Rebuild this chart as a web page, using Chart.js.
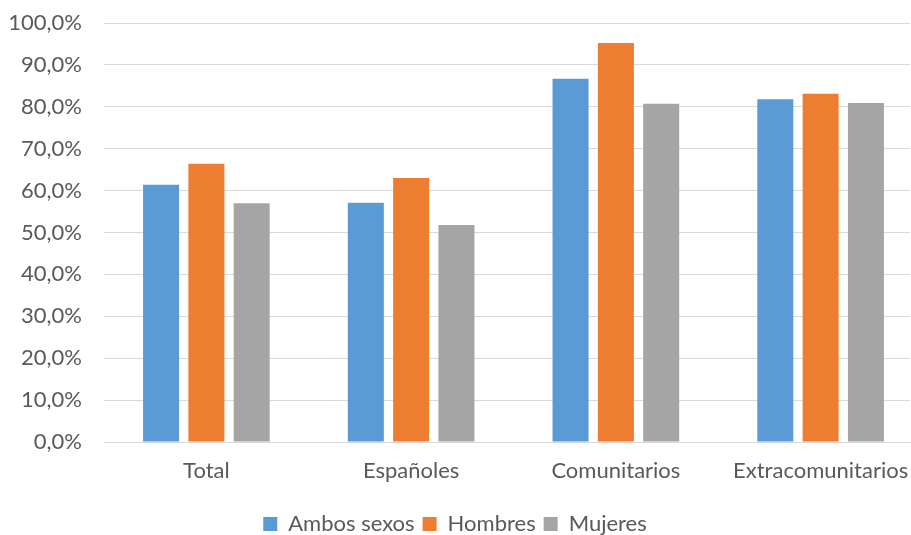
<!DOCTYPE html>
<html>
<head>
<meta charset="utf-8">
<script src="https://cdn.jsdelivr.net/npm/chart.js@4"></script>
<style>
  html, body { margin: 0; padding: 0; background: #fff; }
  #wrap { width: 911px; height: 535px; }
</style>
</head>
<body>
<div id="wrap"><canvas id="tasaChart"></canvas></div>
<script>
// categorias y series (porcentajes)
const categories = ['Total', 'Españoles', 'Comunitarios', 'Extracomunitarios']
const ambosSexos = [61.4, 57.1, 86.7, 81.8]
const hombres = [66.4, 63.0, 95.2, 83.1]
const mujeres = [57.0, 51.8, 80.7, 80.9]
const yTicks = [0, 10, 20, 30, 40, 50, 60, 70, 80, 90, 100]

const grey = '#595959'
const font = {family: 'Lato', size: 22}

// el original esta recortado por la derecha: el eje x sigue mas alla del borde
// y la leyenda queda un poco mas abajo
const layoutFix = {
  id: 'layoutFix',
  afterLayout(chart) {
    const x = chart.scales.x
    x.right = x.left + 819
    x.width = 819
    x.configure()
    chart.legend.top += 10
    chart.legend.bottom += 10
  }
}

new Chart(document.getElementById('tasaChart'), {
  type: 'bar',
  data: {
    labels: categories,
    datasets: [
      {label: 'Ambos sexos', data: ambosSexos, backgroundColor: '#5b9bd5'},
      {label: 'Hombres', data: hombres, backgroundColor: '#ed7d31'},
      {label: 'Mujeres', data: mujeres, backgroundColor: '#a5a5a5'}
    ]
  },
  options: {
    responsive: true,
    maintainAspectRatio: false,
    animation: false,
    categoryPercentage: 0.664,
    barPercentage: 0.795,
    layout: {padding: {top: 23, right: 1, left: 0, bottom: 0}},
    plugins: {
      legend: {
        position: 'bottom',
        labels: {
          color: grey, font: {family: 'Lato', size: 22},
          boxWidth: 14, boxHeight: 14, padding: 8
        }
      },
      tooltip: {enabled: false}
    },
    scales: {
      x: {
        grid: {display: false},
        border: {color: '#d9d9d9', width: 1},
        ticks: {color: grey, font: font, padding: 8},
        afterFit: (s) => { s.height = 53 }
      },
      y: {
        min: 0, max: 100,
        afterBuildTicks: (s) => { s.ticks = yTicks.map(v => ({value: v})) },
        grid: {color: '#d9d9d9', lineWidth: 1, drawTicks: false},
        border: {display: false},
        ticks: {
          color: grey, font: font, padding: 22,
          callback: (v) => v.toFixed(1).replace('.', ',') + '%'
        },
        afterFit: (s) => {
          s.width = 104
          s.paddingTop = 0
          s.paddingBottom = 0
        }
      }
    }
  },
  plugins: [layoutFix]
})
</script>
</body>
</html>
